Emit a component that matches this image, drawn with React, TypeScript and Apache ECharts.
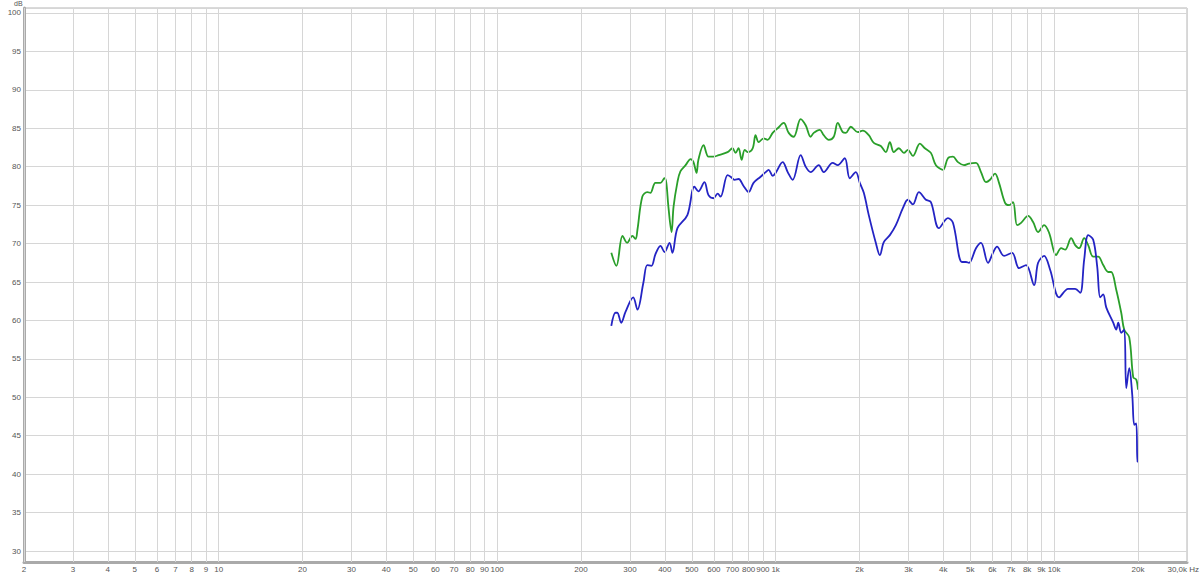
import React, { useEffect, useRef } from "react";
import * as echarts from "echarts";

const greenFreq = [
  257, 268, 282, 293, 306, 314, 319, 332, 346, 355, 370, 386, 399, 405, 412, 423, 430, 444, 455, 475,
  495, 507, 520, 528, 551, 574, 598, 624, 672, 700, 718, 736, 755, 774, 793, 827, 847, 869, 905, 936,
  976, 1017, 1069, 1114, 1161, 1230, 1282, 1336, 1370, 1440, 1488, 1551, 1617, 1671, 1742, 1786, 1861, 1972, 2056, 2160,
  2252, 2386, 2487, 2571, 2657, 2770, 2887, 2984, 3110, 3296, 3435, 3610, 3763, 3988, 4156, 4332, 4515, 4745, 4946, 5241,
  5463, 5694, 5886, 6134, 6341, 6664, 6889, 7121, 7361, 7609, 8063, 8404, 8759, 9205, 9594, 10167, 10597, 10954, 11512, 11900,
  12301, 12821, 13253, 13813, 14398, 15006, 15640, 16034, 16712, 17418, 17856, 18611, 19238, 19722, 20000,
];
const greenDb = [
  68.8, 67.1, 71.0, 70.1, 71.0, 70.6, 71.8, 76.1, 76.7, 76.6, 77.9, 77.9, 78.5, 77.9, 74.8, 71.5, 74.8, 78.0, 79.4, 80.2,
  81.0, 80.6, 79.2, 80.9, 82.8, 81.3, 81.3, 81.5, 81.9, 82.4, 81.8, 82.4, 80.9, 82.2, 81.9, 82.4, 84.1, 83.2, 83.7, 83.5,
  84.4, 85.0, 85.7, 84.4, 83.9, 86.2, 85.4, 83.9, 84.4, 84.8, 84.1, 83.5, 83.9, 85.7, 84.5, 84.4, 85.2, 84.5, 84.7, 84.1,
  83.1, 82.7, 81.9, 83.2, 81.9, 82.4, 81.8, 82.2, 81.4, 83.0, 82.4, 81.8, 80.2, 79.6, 81.1, 81.3, 80.6, 80.2, 80.4, 80.5,
  79.3, 78.0, 78.3, 79.1, 77.9, 75.3, 75.0, 75.4, 72.4, 72.7, 73.6, 72.8, 71.5, 72.4, 71.4, 68.5, 69.4, 69.2, 70.7, 69.8,
  69.4, 70.7, 69.8, 68.3, 68.3, 67.2, 66.3, 66.3, 64.0, 61.0, 58.8, 57.8, 52.6, 52.3, 51.0,
];

const blueFreq = [
  257, 266, 270, 279, 289, 308, 319, 335, 346, 358, 370, 386, 399, 416, 426, 444, 482, 511, 528, 555,
  574, 598, 619, 634, 672, 689, 712, 736, 767, 800, 833, 883, 921, 944, 976, 1000, 1060, 1105, 1151, 1230,
  1282, 1336, 1428, 1488, 1603, 1671, 1771, 1846, 1940, 2005, 2073, 2160, 2289, 2367, 2446, 2571, 2702, 2863, 2984, 3110,
  3269, 3464, 3610, 3858, 4156, 4332, 4668, 4825, 4946, 5241, 5463, 5789, 6034, 6237, 6609, 7062, 7484, 7930, 8474, 8759,
  9205, 9674, 10423, 11230, 11900, 12403, 12821, 13253, 13813, 14279, 14638, 15006, 15384, 16302, 16712, 16991, 17418, 17856, 18155, 18611,
  19079, 19398, 19722, 19900, 20000,
];
const blueDb = [
  59.3, 61.0, 61.0, 59.7, 61.1, 63.0, 61.4, 64.9, 67.2, 67.1, 68.6, 69.7, 68.9, 70.1, 68.8, 72.0, 73.7, 77.4, 76.8, 78.0,
  76.3, 75.9, 76.5, 76.1, 78.9, 78.7, 78.3, 78.4, 77.5, 76.7, 77.9, 78.7, 79.3, 79.6, 78.8, 79.2, 80.6, 79.3, 78.3, 81.5,
  80.0, 79.3, 80.2, 79.3, 80.5, 80.2, 81.1, 78.5, 79.3, 77.9, 76.6, 73.7, 70.1, 68.5, 70.2, 71.1, 72.4, 74.6, 75.7, 75.1,
  76.7, 75.7, 75.4, 72.0, 73.3, 72.7, 67.6, 67.6, 67.5, 69.4, 70.1, 67.5, 68.8, 69.6, 68.4, 68.8, 66.8, 67.2, 64.6, 67.5,
  68.4, 66.6, 63.0, 64.1, 64.1, 63.6, 67.9, 71.1, 70.5, 67.0, 63.0, 63.4, 61.7, 59.7, 58.8, 59.7, 58.4, 58.8, 51.2, 53.8,
  50.3, 46.4, 46.6, 41.6, 42.2,
];

const gridFreqs = [
  2, 3, 4, 5, 6, 7, 8, 9, 10, 20, 30, 40, 50, 60, 70, 80, 90, 100, 200, 300, 400, 500, 600, 700, 800, 900,
  1000, 2000, 3000, 4000, 5000, 6000, 7000, 8000, 9000, 10000, 20000, 30000,
];
const gridLabels = [
  "2", "3", "4", "5", "6", "7", "8", "9", "10", "20", "30", "40", "50", "60", "70", "80", "90", "100", "200", "300",
  "400", "500", "600", "700", "800", "900", "1k", "2k", "3k", "4k", "5k", "6k", "7k", "8k", "9k", "10k", "20k", "",
];

export default function App() {
  const ref = useRef<HTMLDivElement>(null);
  useEffect(() => {
    if (!ref.current) return;
    const chart = echarts.init(ref.current, null, { renderer: "svg" });
    const font = "'Liberation Sans', Arial, sans-serif";
    const gridColor = "#d6d6d6";
    const textColor = "#555555";
    chart.setOption({
      animation: false,
      backgroundColor: "#ffffff",
      grid: {
        left: 24,
        right: 13,
        top: 8,
        bottom: 14,
        show: true,
        borderColor: "#b5b5b5",
        borderWidth: 1,
        backgroundColor: "transparent",
      },
      xAxis: {
        type: "log",
        logBase: 10,
        min: 2,
        max: 30000,
        axisLine: { show: true, onZero: false, lineStyle: { color: "#aaaaaa", width: 3 } },
        axisTick: { show: false },
        axisLabel: { show: false },
        splitLine: { show: false },
        minorSplitLine: { show: false },
      },
      yAxis: {
        type: "value",
        min: 28.57,
        max: 100.65,
        splitNumber: 14,
        minInterval: 5,
        maxInterval: 5,
        axisLine: { show: true, onZero: false, lineStyle: { color: "#aaaaaa", width: 3 } },
        axisTick: { show: false },
        axisLabel: {
          fontSize: 8,
          color: textColor,
          margin: 3,
          showMinLabel: false,
          showMaxLabel: false,
          fontFamily: font,
        },
        splitLine: { lineStyle: { color: gridColor, width: 1 } },
      },
      graphic: [
        {
          type: "text",
          left: 14,
          top: 0,
          style: { text: "dB", fontSize: 7, fill: textColor, fontFamily: font },
        },
        {
          type: "text",
          right: 1,
          top: 565,
          style: { text: "30,0k Hz", fontSize: 8, fill: textColor, fontFamily: font },
        },
      ],
      series: [
        {
          type: "line",
          data: [],
          silent: true,
          z: 1,
          markLine: {
            silent: true,
            symbol: ["none", "none"],
            animation: false,
            emphasis: { disabled: true },
            lineStyle: { color: gridColor, width: 1, type: "solid" },
            label: {
              show: true,
              position: "start",
              distance: 3,
              fontSize: 8,
              color: textColor,
              fontFamily: font,
            },
            data: gridFreqs.map((f, i) => ({ xAxis: f, label: { formatter: gridLabels[i] } })),
          },
        },
        {
          type: "line",
          name: "green",
          data: greenFreq.map((f, i) => [f, greenDb[i]]),
          showSymbol: false,
          smooth: 0.35,
          z: 3,
          lineStyle: { color: "#2a9f2a", width: 1.8 },
        },
        {
          type: "line",
          name: "blue",
          data: blueFreq.map((f, i) => [f, blueDb[i]]),
          showSymbol: false,
          smooth: 0.35,
          z: 4,
          lineStyle: { color: "#2424c4", width: 1.8 },
        },
      ],
    });
    return () => chart.dispose();
  }, []);
  return (
    <div
      ref={ref}
      style={{ position: "fixed", left: 0, top: 0, width: 1200, height: 576 }}
    />
  );
}
